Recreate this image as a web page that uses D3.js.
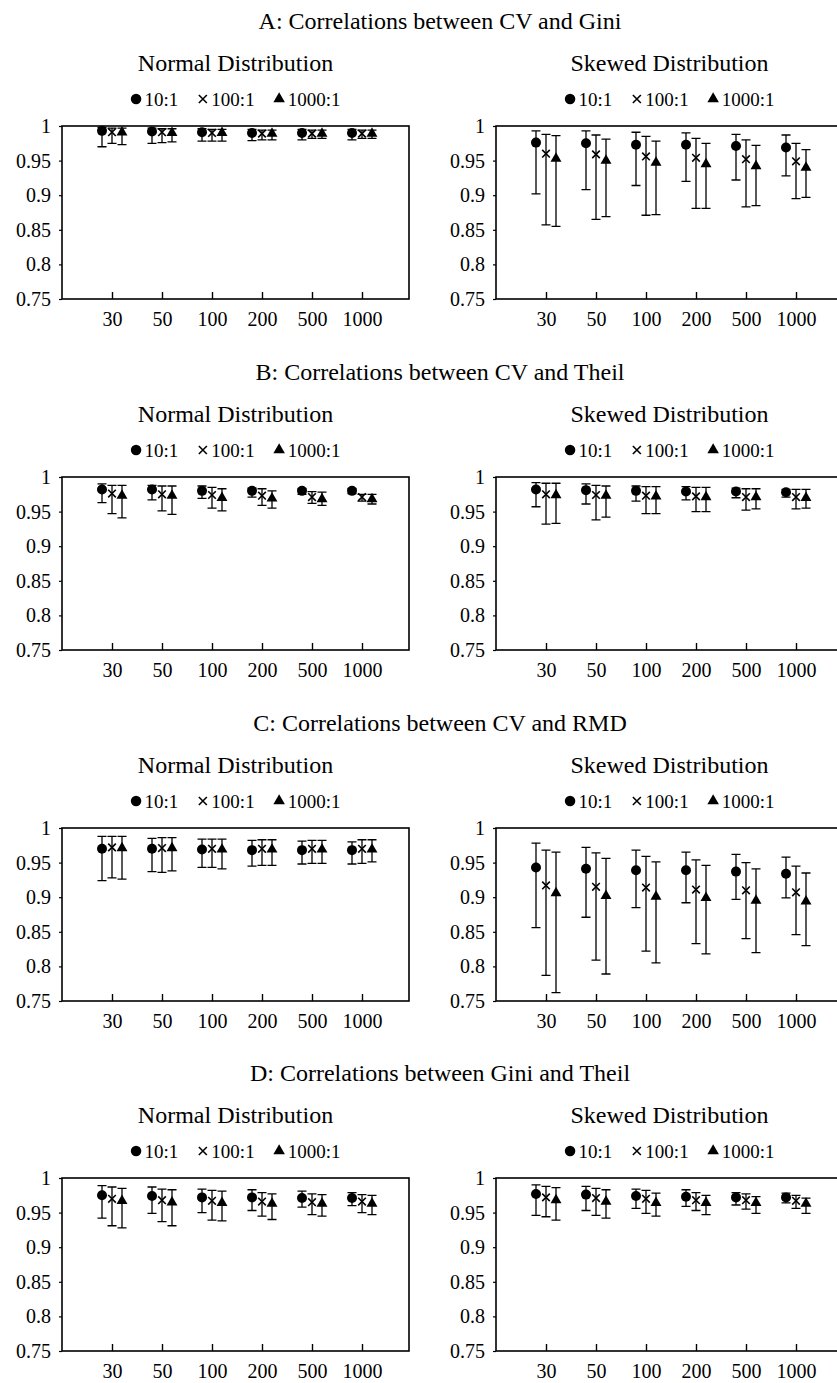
<!DOCTYPE html>
<html>
<head>
<meta charset="utf-8">
<script src="https://cdn.jsdelivr.net/npm/d3@7"></script>
<style>
  body { margin: 0; background: #fff; }
  svg { display: block; }
  svg text { font-family: "Liberation Serif", "Times New Roman", serif; }
</style>
</head>
<body>
<svg id="chart"></svg>
<script>
const sampleSizes = ["30", "50", "100", "200", "500", "1000"];
const ratios = ["10:1", "100:1", "1000:1"];
const yTicks = [0.75, 0.8, 0.85, 0.9, 0.95, 1];
const rowTitles = [
    "A: Correlations between CV and Gini",
    "B: Correlations between CV and Theil",
    "C: Correlations between CV and RMD",
    "D: Correlations between Gini and Theil"
];
const panelTitles = ["Normal Distribution", "Skewed Distribution"];

// every array: [10:1, 100:1, 1000:1], one value per sample size
const aNormalMean = [[0.993, 0.992, 0.991, 0.990, 0.990, 0.990], [0.991, 0.991, 0.990, 0.989, 0.989, 0.989], [0.991, 0.990, 0.990, 0.989, 0.989, 0.989]];
const aNormalLow  = [[0.970, 0.975, 0.978, 0.979, 0.980, 0.980], [0.975, 0.976, 0.978, 0.980, 0.982, 0.982], [0.973, 0.977, 0.978, 0.980, 0.982, 0.982]];
const aNormalHigh = [[0.998, 0.997, 0.996, 0.995, 0.995, 0.995], [0.997, 0.996, 0.995, 0.994, 0.994, 0.994], [0.997, 0.996, 0.995, 0.994, 0.994, 0.994]];

const aSkewMean = [[0.976, 0.975, 0.973, 0.973, 0.971, 0.969], [0.960, 0.959, 0.956, 0.954, 0.952, 0.949], [0.953, 0.950, 0.947, 0.945, 0.942, 0.940]];
const aSkewLow  = [[0.902, 0.908, 0.914, 0.920, 0.922, 0.928], [0.857, 0.865, 0.871, 0.881, 0.883, 0.895], [0.855, 0.869, 0.872, 0.881, 0.885, 0.897]];
const aSkewHigh = [[0.993, 0.993, 0.991, 0.990, 0.988, 0.987], [0.988, 0.987, 0.985, 0.982, 0.980, 0.975], [0.986, 0.981, 0.978, 0.975, 0.972, 0.966]];

const bNormalMean = [[0.982, 0.982, 0.980, 0.980, 0.980, 0.980], [0.976, 0.975, 0.974, 0.973, 0.971, 0.971], [0.973, 0.973, 0.970, 0.969, 0.968, 0.968]];
const bNormalLow  = [[0.963, 0.967, 0.969, 0.971, 0.975, 0.976], [0.947, 0.951, 0.955, 0.959, 0.962, 0.965], [0.941, 0.946, 0.951, 0.955, 0.959, 0.961]];
const bNormalHigh = [[0.990, 0.988, 0.987, 0.984, 0.983, 0.983], [0.988, 0.987, 0.985, 0.983, 0.979, 0.975], [0.988, 0.987, 0.983, 0.980, 0.978, 0.975]];

const bSkewMean = [[0.982, 0.981, 0.980, 0.979, 0.979, 0.978], [0.975, 0.974, 0.973, 0.972, 0.971, 0.971], [0.974, 0.973, 0.972, 0.971, 0.971, 0.970]];
const bSkewLow  = [[0.957, 0.961, 0.965, 0.967, 0.970, 0.971], [0.932, 0.938, 0.947, 0.950, 0.952, 0.954], [0.933, 0.942, 0.947, 0.950, 0.954, 0.955]];
const bSkewHigh = [[0.992, 0.990, 0.987, 0.986, 0.984, 0.982], [0.991, 0.988, 0.986, 0.985, 0.983, 0.982], [0.991, 0.987, 0.986, 0.985, 0.983, 0.982]];

const cNormalMean = [[0.970, 0.970, 0.969, 0.968, 0.968, 0.968], [0.972, 0.971, 0.970, 0.970, 0.970, 0.970], [0.971, 0.971, 0.969, 0.969, 0.969, 0.969]];
const cNormalLow  = [[0.924, 0.937, 0.943, 0.945, 0.948, 0.948], [0.928, 0.936, 0.943, 0.946, 0.949, 0.949], [0.926, 0.938, 0.941, 0.946, 0.949, 0.951]];
const cNormalHigh = [[0.988, 0.985, 0.984, 0.982, 0.981, 0.980], [0.988, 0.986, 0.984, 0.983, 0.982, 0.983], [0.988, 0.986, 0.984, 0.983, 0.982, 0.983]];

const cSkewMean = [[0.943, 0.941, 0.939, 0.939, 0.937, 0.934], [0.917, 0.915, 0.914, 0.911, 0.910, 0.907], [0.906, 0.902, 0.901, 0.899, 0.895, 0.894]];
const cSkewLow  = [[0.856, 0.871, 0.885, 0.892, 0.897, 0.899], [0.787, 0.809, 0.822, 0.833, 0.840, 0.846], [0.762, 0.789, 0.805, 0.818, 0.820, 0.830]];
const cSkewHigh = [[0.978, 0.972, 0.968, 0.965, 0.962, 0.958], [0.968, 0.964, 0.959, 0.954, 0.950, 0.945], [0.965, 0.956, 0.951, 0.946, 0.941, 0.935]];

const dNormalMean = [[0.975, 0.974, 0.972, 0.972, 0.971, 0.971], [0.970, 0.968, 0.967, 0.966, 0.965, 0.966], [0.967, 0.965, 0.964, 0.963, 0.963, 0.963]];
const dNormalLow  = [[0.942, 0.949, 0.950, 0.953, 0.958, 0.960], [0.931, 0.937, 0.939, 0.945, 0.947, 0.950], [0.928, 0.931, 0.938, 0.940, 0.945, 0.947]];
const dNormalHigh = [[0.989, 0.987, 0.984, 0.983, 0.981, 0.979], [0.987, 0.984, 0.982, 0.979, 0.977, 0.976], [0.985, 0.983, 0.981, 0.977, 0.976, 0.975]];

const dSkewMean = [[0.977, 0.976, 0.974, 0.973, 0.972, 0.972], [0.972, 0.971, 0.970, 0.968, 0.968, 0.967], [0.968, 0.966, 0.964, 0.964, 0.964, 0.963]];
const dSkewLow  = [[0.946, 0.953, 0.956, 0.959, 0.961, 0.964], [0.944, 0.946, 0.949, 0.953, 0.955, 0.956], [0.939, 0.942, 0.945, 0.947, 0.949, 0.949]];
const dSkewHigh = [[0.990, 0.988, 0.984, 0.983, 0.979, 0.978], [0.988, 0.985, 0.982, 0.979, 0.977, 0.975], [0.986, 0.983, 0.978, 0.975, 0.973, 0.971]];

const rows = [
    [[aNormalMean, aNormalLow, aNormalHigh], [aSkewMean, aSkewLow, aSkewHigh]],
    [[bNormalMean, bNormalLow, bNormalHigh], [bSkewMean, bSkewLow, bSkewHigh]],
    [[cNormalMean, cNormalLow, cNormalHigh], [cSkewMean, cSkewLow, cSkewHigh]],
    [[dNormalMean, dNormalLow, dNormalHigh], [dSkewMean, dSkewLow, dSkewHigh]]
];

const width = 837;
const height = 1383;
const plotW = 347;
const plotH = 173;
const colLeft = [62, 496];
const rowTop = [126, 477, 828, 1178];
const seriesOffset = [-10, 0, 10];
const capHalf = 4.5;

const svg = d3.select("#chart")
    .attr("width", width)
    .attr("height", height)
    .attr("viewBox", [0, 0, width, height]);

const x = d3.scaleLinear([0, 6.94], [0, plotW]);
const y = d3.scaleLinear([0.75, 1], [plotH, 0]);

const drawMarker = (sel, s, cx, cy, k = 1) => {
    if (s === 0) {
        sel.append("circle").attr("cx", cx).attr("cy", cy).attr("r", 5 * k).attr("fill", "#000");
    } else if (s === 1) {
        const h = 3.8 * k;
        sel.append("path")
            .attr("d", `M${cx - h},${cy - h}L${cx + h},${cy + h}M${cx - h},${cy + h}L${cx + h},${cy - h}`)
            .attr("stroke", "#000")
            .attr("stroke-width", 1.6)
            .attr("fill", "none");
    } else {
        sel.append("path")
            .attr("d", d3.symbol(d3.symbolTriangle, 52 * k * k)())
            .attr("transform", `translate(${cx},${cy})`)
            .attr("fill", "#000");
    }
};

const styleAxis = (a, tickWidth) => {
    a.attr("font-family", null).attr("font-size", 20);
    a.select(".domain").remove();
    a.selectAll("text").attr("fill", "#000");
    a.selectAll("line").attr("stroke-width", tickWidth);
};

rows.forEach((row, r) => {
    const top = rowTop[r];

    svg.append("text")
        .attr("x", 440)
        .attr("y", top - 97)
        .attr("text-anchor", "middle")
        .attr("font-size", 24)
        .text(rowTitles[r]);

    row.forEach(([mean, low, high], c) => {
        const g = svg.append("g").attr("transform", `translate(${colLeft[c]},${top})`);

        g.append("text")
            .attr("x", plotW / 2)
            .attr("y", -55)
            .attr("text-anchor", "middle")
            .attr("font-size", 24)
            .text(panelTitles[c]);

        // legend
        const legend = g.append("g").attr("font-size", 19);
        let pos = 0;
        ratios.forEach((label, s) => {
            const item = legend.append("g").attr("transform", `translate(${pos},0)`);
            drawMarker(item, s, 5.5, -27, 1.05);
            const t = item.append("text").attr("x", 14).attr("y", -20).text(label);
            pos += 14 + t.node().getComputedTextLength() + 19;
        });
        const legendW = pos - 19;
        legend.attr("transform", `translate(${plotW / 2 - legendW / 2},0)`);

        // axes
        const yAxis = d3.axisLeft(y)
            .tickValues(yTicks)
            .tickFormat(d => String(d))
            .tickSize(3)
            .tickPadding(8);
        g.append("g").call(yAxis).call(styleAxis, 1.2);

        const xAxis = d3.axisBottom(x)
            .tickValues(d3.range(1, sampleSizes.length + 1))
            .tickFormat(i => sampleSizes[i - 1])
            .tickSize(-7)
            .tickPadding(13);
        g.append("g").attr("transform", `translate(0,${plotH})`).call(xAxis).call(styleAxis, 1.4);

        g.append("rect")
            .attr("width", plotW)
            .attr("height", plotH)
            .attr("fill", "none")
            .attr("stroke", "#000")
            .attr("stroke-width", 1.6);

        // error bars then markers
        ratios.forEach((label, s) => {
            sampleSizes.forEach((n, i) => {
                const cx = x(i + 1) + seriesOffset[s];
                const y0 = y(low[s][i]);
                const y1 = y(high[s][i]);
                g.append("path")
                    .attr("d", `M${cx},${y0}V${y1}M${cx - capHalf},${y0}H${cx + capHalf}M${cx - capHalf},${y1}H${cx + capHalf}`)
                    .attr("stroke", "#000")
                    .attr("stroke-width", 1.3)
                    .attr("fill", "none");
            });
        });
        ratios.forEach((label, s) => {
            sampleSizes.forEach((n, i) => {
                drawMarker(g, s, x(i + 1) + seriesOffset[s], y(mean[s][i]));
            });
        });
    });
});
</script>
</body>
</html>
